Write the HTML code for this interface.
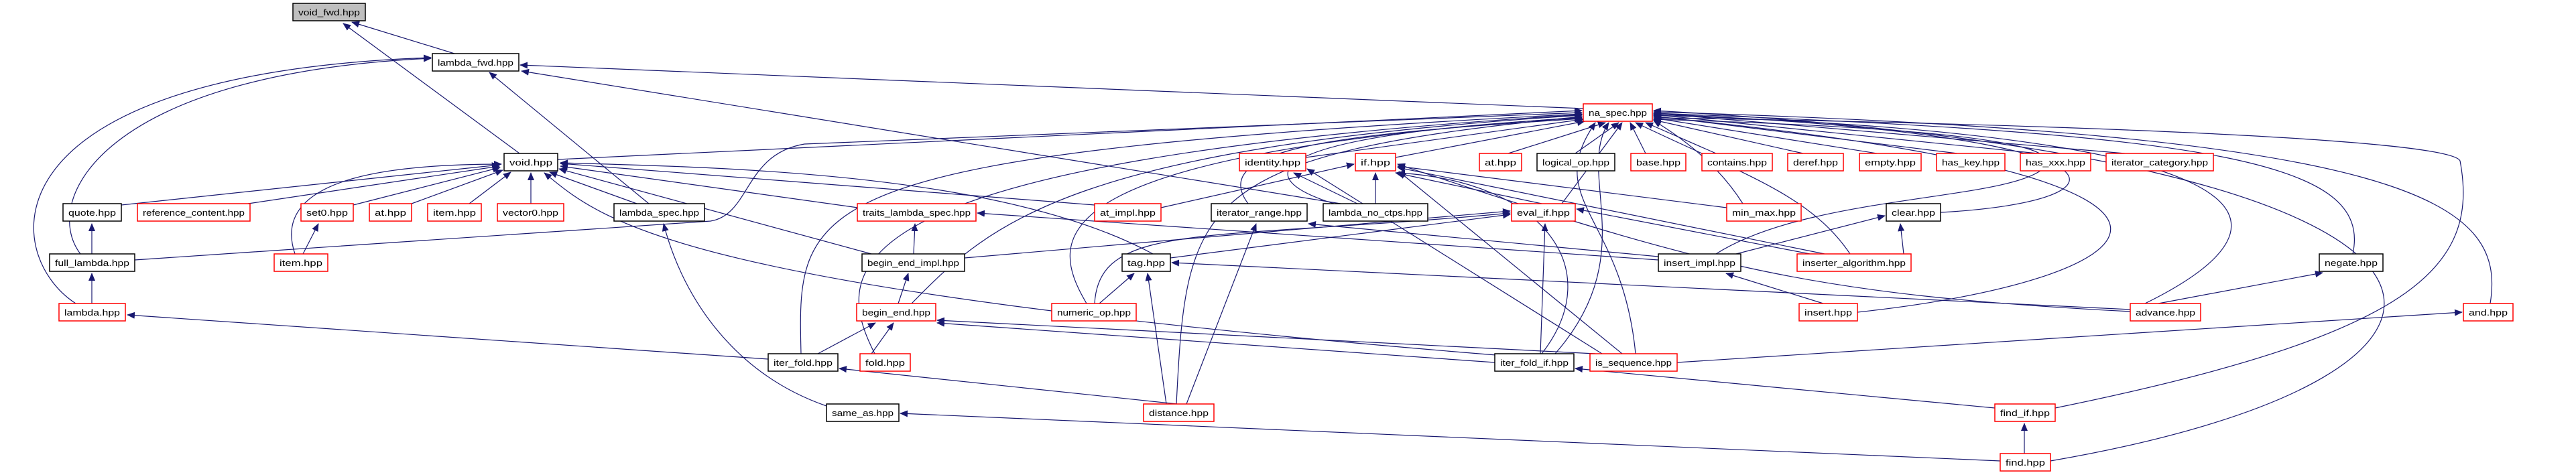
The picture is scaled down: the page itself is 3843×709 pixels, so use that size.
<!DOCTYPE html>
<html><head><meta charset="utf-8"><style>
html,body{margin:0;padding:0;background:#fff;}
svg{display:block;}
text{font-family:"Liberation Sans",sans-serif;font-size:13px;fill:#000;}
.n{fill:#fff;stroke:#000;stroke-width:1.5;}
.r{fill:#fff;stroke:#ff0000;stroke-width:1.5;}
.g{fill:#bfbfbf;stroke:#000;stroke-width:1.5;}
path{fill:none;stroke:#191970;stroke-width:1.2;}
</style></head><body>
<svg width="3843" height="709" viewBox="0 0 3843 709" xmlns="http://www.w3.org/2000/svg">
<defs><marker id="a" markerWidth="12" markerHeight="10" refX="11" refY="5" orient="auto" markerUnits="userSpaceOnUse"><polygon points="0,0 12,5 0,10" fill="#191970"/></marker></defs>
<g marker-end="url(#a)">
<path d="M678,80 L525,33"/>
<path d="M775,229 L512,35"/>
<path d="M2362,162 L776,97"/>
<path d="M2000,304 L778,106"/>
<path d="M968,304 L730,108"/>
<path d="M120,379 C60,300 150,110 643,87"/>
<path d="M113,453 C0,380 -30,110 643,86"/>
<path d="M832,238 L2360,165"/>
<path d="M181,306 L745,246"/>
<path d="M370,304 L745,248"/>
<path d="M527,306 L746,250"/>
<path d="M614,304 L750,254"/>
<path d="M700,304 L762,257"/>
<path d="M792,304 L792,258"/>
<path d="M950,304 L820,257"/>
<path d="M440,379 C400,260 600,245 748,245"/>
<path d="M1280,310 L836,248"/>
<path d="M1633,306 L836,244"/>
<path d="M1720,379 C1500,260 1100,250 836,243"/>
<path d="M1300,379 L834,252"/>
<path d="M2232,530 C1000,430 900,330 812,258"/>
<path d="M201,388 L1060,330 C1120,320 1110,230 1200,215 L2360,168"/>
<path d="M137,379 L137,334"/>
<path d="M137,453 L137,408"/>
<path d="M452,379 L475,334"/>
<path d="M1233,606 C1100,560 1020,450 990,334"/>
<path d="M1146,536 L190,470"/>
<path d="M1220,528 L1306,482"/>
<path d="M1195,528 C1190,300 1180,230 2360,170"/>
<path d="M1300,528 L1333,482"/>
<path d="M1305,528 C1240,400 1230,240 2360,171"/>
<path d="M1340,453 L1355,408"/>
<path d="M1360,453 C1480,330 1600,220 2360,172"/>
<path d="M1363,379 L1365,334"/>
<path d="M1439,385 L2253,315"/>
<path d="M1756,603 L1252,550"/>
<path d="M1740,603 L1712,408"/>
<path d="M1770,603 L1874,334"/>
<path d="M1755,603 C1770,300 1780,230 2360,174"/>
<path d="M1640,453 L1692,408"/>
<path d="M1621,453 C1560,350 1550,230 2360,175"/>
<path d="M1633,453 C1640,330 1800,360 2253,318"/>
<path d="M1746,385 L2253,320"/>
<path d="M3178,462 L1748,392"/>
<path d="M3220,453 L3465,407"/>
<path d="M3200,453 C3450,330 3400,200 2467,172"/>
<path d="M3178,465 C2700,440 2550,400 2085,245"/>
<path d="M1732,310 L2020,245"/>
<path d="M2025,304 L1930,258"/>
<path d="M2052,304 L2052,258"/>
<path d="M1990,304 C1850,260 1900,200 2360,176"/>
<path d="M1862,304 C1800,220 2000,200 2360,177"/>
<path d="M2474,388 L1458,318"/>
<path d="M2474,383 L1952,334"/>
<path d="M2590,379 L2812,322"/>
<path d="M2560,379 C2700,290 3000,300 3050,250 C3100,200 2700,185 2467,178"/>
<path d="M2720,453 L2575,408"/>
<path d="M2771,466 C3200,420 3450,270 2467,174"/>
<path d="M2840,379 L2835,334"/>
<path d="M2722,379 L2085,250"/>
<path d="M2700,379 L2352,312"/>
<path d="M2760,379 C2700,290 2600,260 2440,183"/>
<path d="M2895,317 C3200,300 3200,200 2467,170"/>
<path d="M2300,304 L2082,258"/>
<path d="M2330,304 L2420,183"/>
<path d="M2298,528 L2305,334"/>
<path d="M2300,528 C2400,400 2300,270 2085,258"/>
<path d="M2230,541 L1398,482"/>
<path d="M2320,528 C2450,380 2350,260 2400,183"/>
<path d="M2380,528 L1398,478"/>
<path d="M2420,528 L2087,256"/>
<path d="M2440,528 C2420,320 2300,300 2380,183"/>
<path d="M2390,528 L1950,252"/>
<path d="M2976,609 L2350,550"/>
<path d="M3066,609 C3600,500 3700,400 3670,240 C3650,200 2800,180 2467,176"/>
<path d="M3020,677 L3020,632"/>
<path d="M2984,688 L1343,617"/>
<path d="M3059,688 C3800,560 3800,240 2467,165"/>
<path d="M3715,453 C3740,300 3600,200 2467,167"/>
<path d="M2502,541 L3673,466"/>
<path d="M3510,379 C3540,240 3300,200 2467,169"/>
<path d="M2250,229 L2395,183"/>
<path d="M2350,229 L2415,183"/>
<path d="M2455,229 L2432,183"/>
<path d="M2560,229 L2455,183"/>
<path d="M2690,229 L2467,179"/>
<path d="M2800,229 L2467,176"/>
<path d="M2920,229 L2467,173"/>
<path d="M3040,229 L2467,171"/>
<path d="M3170,229 L2467,169"/>
<path d="M1948,235 L2362,178"/>
<path d="M2082,235 L2364,181"/>
<path d="M2576,310 L2085,248"/>
<path d="M2600,304 C2560,240 2500,200 2467,180"/>
</g>
<g>
<rect class="g" x="437" y="5" width="108" height="26"/><text x="445" y="23" textLength="92" lengthAdjust="spacingAndGlyphs">void_fwd.hpp</text>
<rect class="n" x="645" y="80" width="129" height="26"/><text x="653" y="98" textLength="113" lengthAdjust="spacingAndGlyphs">lambda_fwd.hpp</text>
<rect class="r" x="2362" y="155" width="103" height="26"/><text x="2370" y="173" textLength="87" lengthAdjust="spacingAndGlyphs">na_spec.hpp</text>
<rect class="n" x="752" y="229" width="80" height="26"/><text x="760" y="247" textLength="64" lengthAdjust="spacingAndGlyphs">void.hpp</text>
<rect class="r" x="1849" y="229" width="99" height="26"/><text x="1857" y="247" textLength="83" lengthAdjust="spacingAndGlyphs">identity.hpp</text>
<rect class="r" x="2022" y="229" width="60" height="26"/><text x="2030" y="247" textLength="44" lengthAdjust="spacingAndGlyphs">if.hpp</text>
<rect class="r" x="2207" y="229" width="63" height="26"/><text x="2215" y="247" textLength="47" lengthAdjust="spacingAndGlyphs">at.hpp</text>
<rect class="n" x="2293" y="229" width="116" height="26"/><text x="2301" y="247" textLength="100" lengthAdjust="spacingAndGlyphs">logical_op.hpp</text>
<rect class="r" x="2433" y="229" width="82" height="26"/><text x="2441" y="247" textLength="66" lengthAdjust="spacingAndGlyphs">base.hpp</text>
<rect class="r" x="2539" y="229" width="105" height="26"/><text x="2547" y="247" textLength="89" lengthAdjust="spacingAndGlyphs">contains.hpp</text>
<rect class="r" x="2667" y="229" width="83" height="26"/><text x="2675" y="247" textLength="67" lengthAdjust="spacingAndGlyphs">deref.hpp</text>
<rect class="r" x="2774" y="229" width="92" height="26"/><text x="2782" y="247" textLength="76" lengthAdjust="spacingAndGlyphs">empty.hpp</text>
<rect class="r" x="2889" y="229" width="102" height="26"/><text x="2897" y="247" textLength="86" lengthAdjust="spacingAndGlyphs">has_key.hpp</text>
<rect class="r" x="3014" y="229" width="105" height="26"/><text x="3022" y="247" textLength="89" lengthAdjust="spacingAndGlyphs">has_xxx.hpp</text>
<rect class="r" x="3142" y="229" width="160" height="26"/><text x="3150" y="247" textLength="144" lengthAdjust="spacingAndGlyphs">iterator_category.hpp</text>
<rect class="n" x="94" y="304" width="87" height="26"/><text x="102" y="322" textLength="71" lengthAdjust="spacingAndGlyphs">quote.hpp</text>
<rect class="r" x="205" y="304" width="168" height="26"/><text x="213" y="322" textLength="152" lengthAdjust="spacingAndGlyphs">reference_content.hpp</text>
<rect class="r" x="449" y="304" width="78" height="26"/><text x="457" y="322" textLength="62" lengthAdjust="spacingAndGlyphs">set0.hpp</text>
<rect class="r" x="551" y="304" width="63" height="26"/><text x="559" y="322" textLength="47" lengthAdjust="spacingAndGlyphs">at.hpp</text>
<rect class="r" x="638" y="304" width="80" height="26"/><text x="646" y="322" textLength="64" lengthAdjust="spacingAndGlyphs">item.hpp</text>
<rect class="r" x="742" y="304" width="99" height="26"/><text x="750" y="322" textLength="83" lengthAdjust="spacingAndGlyphs">vector0.hpp</text>
<rect class="n" x="916" y="304" width="135" height="26"/><text x="924" y="322" textLength="119" lengthAdjust="spacingAndGlyphs">lambda_spec.hpp</text>
<rect class="r" x="1279" y="304" width="177" height="26"/><text x="1287" y="322" textLength="161" lengthAdjust="spacingAndGlyphs">traits_lambda_spec.hpp</text>
<rect class="r" x="1633" y="304" width="99" height="26"/><text x="1641" y="322" textLength="83" lengthAdjust="spacingAndGlyphs">at_impl.hpp</text>
<rect class="n" x="1807" y="304" width="143" height="26"/><text x="1815" y="322" textLength="127" lengthAdjust="spacingAndGlyphs">iterator_range.hpp</text>
<rect class="n" x="1974" y="304" width="156" height="26"/><text x="1982" y="322" textLength="140" lengthAdjust="spacingAndGlyphs">lambda_no_ctps.hpp</text>
<rect class="r" x="2255" y="304" width="95" height="26"/><text x="2263" y="322" textLength="79" lengthAdjust="spacingAndGlyphs">eval_if.hpp</text>
<rect class="r" x="2576" y="304" width="111" height="26"/><text x="2584" y="322" textLength="95" lengthAdjust="spacingAndGlyphs">min_max.hpp</text>
<rect class="n" x="2814" y="304" width="81" height="26"/><text x="2822" y="322" textLength="65" lengthAdjust="spacingAndGlyphs">clear.hpp</text>
<rect class="n" x="74" y="379" width="127" height="26"/><text x="82" y="397" textLength="111" lengthAdjust="spacingAndGlyphs">full_lambda.hpp</text>
<rect class="r" x="409" y="379" width="80" height="26"/><text x="417" y="397" textLength="64" lengthAdjust="spacingAndGlyphs">item.hpp</text>
<rect class="n" x="1286" y="379" width="153" height="26"/><text x="1294" y="397" textLength="137" lengthAdjust="spacingAndGlyphs">begin_end_impl.hpp</text>
<rect class="n" x="1674" y="379" width="72" height="26"/><text x="1682" y="397" textLength="56" lengthAdjust="spacingAndGlyphs">tag.hpp</text>
<rect class="n" x="2474" y="379" width="123" height="26"/><text x="2482" y="397" textLength="107" lengthAdjust="spacingAndGlyphs">insert_impl.hpp</text>
<rect class="r" x="2681" y="379" width="170" height="26"/><text x="2689" y="397" textLength="154" lengthAdjust="spacingAndGlyphs">inserter_algorithm.hpp</text>
<rect class="n" x="3460" y="379" width="95" height="26"/><text x="3468" y="397" textLength="79" lengthAdjust="spacingAndGlyphs">negate.hpp</text>
<rect class="r" x="88" y="453" width="99" height="26"/><text x="96" y="471" textLength="83" lengthAdjust="spacingAndGlyphs">lambda.hpp</text>
<rect class="r" x="1278" y="453" width="118" height="26"/><text x="1286" y="471" textLength="102" lengthAdjust="spacingAndGlyphs">begin_end.hpp</text>
<rect class="r" x="1569" y="453" width="126" height="26"/><text x="1577" y="471" textLength="110" lengthAdjust="spacingAndGlyphs">numeric_op.hpp</text>
<rect class="r" x="2684" y="453" width="87" height="26"/><text x="2692" y="471" textLength="71" lengthAdjust="spacingAndGlyphs">insert.hpp</text>
<rect class="r" x="3178" y="453" width="105" height="26"/><text x="3186" y="471" textLength="89" lengthAdjust="spacingAndGlyphs">advance.hpp</text>
<rect class="r" x="3675" y="453" width="74" height="26"/><text x="3683" y="471" textLength="58" lengthAdjust="spacingAndGlyphs">and.hpp</text>
<rect class="n" x="1146" y="528" width="104" height="26"/><text x="1154" y="546" textLength="88" lengthAdjust="spacingAndGlyphs">iter_fold.hpp</text>
<rect class="r" x="1283" y="528" width="75" height="26"/><text x="1291" y="546" textLength="59" lengthAdjust="spacingAndGlyphs">fold.hpp</text>
<rect class="n" x="2230" y="528" width="118" height="26"/><text x="2238" y="546" textLength="102" lengthAdjust="spacingAndGlyphs">iter_fold_if.hpp</text>
<rect class="r" x="2372" y="528" width="130" height="26"/><text x="2380" y="546" textLength="114" lengthAdjust="spacingAndGlyphs">is_sequence.hpp</text>
<rect class="n" x="1233" y="603" width="108" height="26"/><text x="1241" y="621" textLength="92" lengthAdjust="spacingAndGlyphs">same_as.hpp</text>
<rect class="r" x="1706" y="603" width="105" height="26"/><text x="1714" y="621" textLength="89" lengthAdjust="spacingAndGlyphs">distance.hpp</text>
<rect class="r" x="2976" y="603" width="90" height="26"/><text x="2984" y="621" textLength="74" lengthAdjust="spacingAndGlyphs">find_if.hpp</text>
<rect class="r" x="2984" y="677" width="75" height="26"/><text x="2992" y="695" textLength="59" lengthAdjust="spacingAndGlyphs">find.hpp</text>
</g>
</svg>
</body></html>
